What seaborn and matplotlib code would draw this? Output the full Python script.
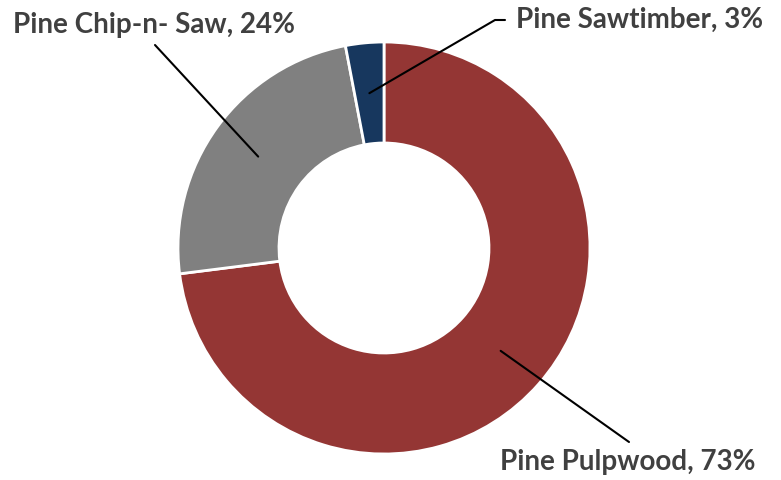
import numpy as np
import matplotlib
matplotlib.use('Agg')
import matplotlib.pyplot as plt
import seaborn as sns

# Data
categories = ['Pine Pulpwood', 'Pine Chip-n- Saw', 'Pine Sawtimber']
shares = [73, 24, 3]
colors = ['#943634', '#808080', '#17375E']

sns.set_theme(style='white')
plt.rcParams['font.family'] = ['Lato', 'DejaVu Sans']

fig = plt.figure(figsize=(7.81, 4.8), dpi=100)
ax = fig.add_axes([0, 0, 1, 1])

center = (384, 232)
radius = 206
ring = 101
wedges, _ = ax.pie(shares, colors=colors, startangle=90, counterclock=False,
                   center=center, radius=radius, frame=True,
                   wedgeprops=dict(width=ring, edgecolor='white', linewidth=2))
ax.set_xlim(0, 781)
ax.set_ylim(0, 480)
ax.set_aspect('equal')
ax.axis('off')

# label positions (text anchor, line end, optional elbow)
label_pos = [
    dict(xy=(500, 18), line_end=(629, 38), elbow=None),
    dict(xy=(13, 455), line_end=(155, 435), elbow=None),
    dict(xy=(516, 460), line_end=(505, 460), elbow=(495, 460)),
]

mid_r = radius - ring / 2
for w, cat, val, pos in zip(wedges, categories, shares, label_pos):
    ang = np.deg2rad((w.theta1 + w.theta2) / 2)
    start = (center[0] + mid_r * np.cos(ang), center[1] + mid_r * np.sin(ang))
    pts = [start]
    if pos['elbow'] is not None:
        pts.append(pos['elbow'])
    pts.append(pos['line_end'])
    xs, ys = zip(*pts)
    ax.plot(xs, ys, color='black', lw=1.5)
    ax.text(pos['xy'][0], pos['xy'][1], f'{cat}, {val}%', ha='left', va='center',
            fontsize=20, fontweight='bold', color='#404040')

fig.savefig('out.png', dpi=100)
